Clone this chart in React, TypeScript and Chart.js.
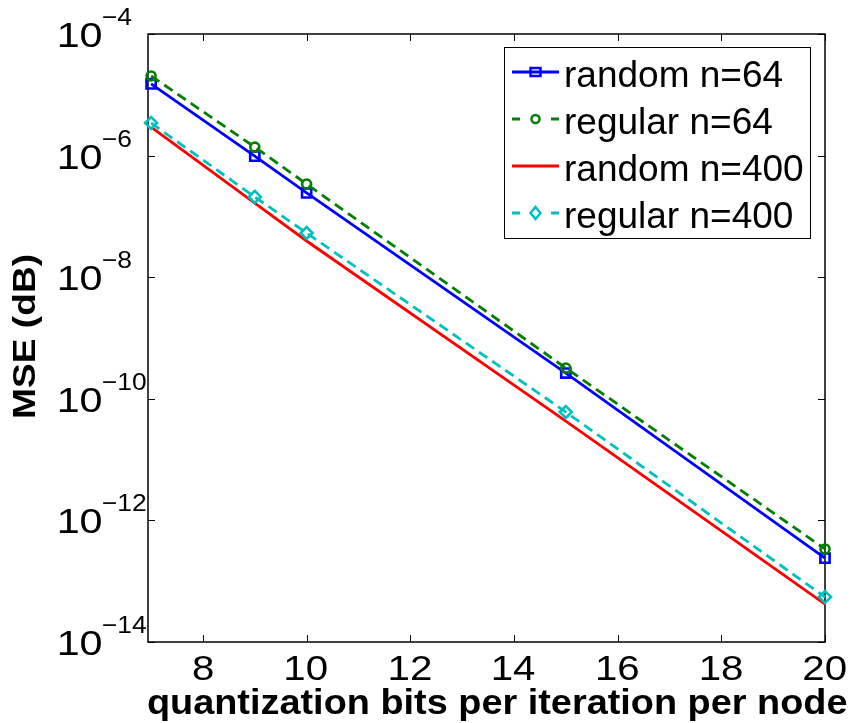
import React, { useEffect, useRef } from 'react';
import { Chart, registerables } from 'chart.js';

Chart.register(...registerables);

// ---- data ----
const bits = [7, 9, 10, 15, 20];
const randomN64 = [1.51e-5, 9.8e-7, 2.43e-7, 2.65e-10, 2.4e-13];
const regularN64 = [2.04e-5, 1.38e-6, 3.41e-7, 3.21e-10, 3.39e-13];
const randomN400 = [2.95e-6, 1.66e-7, 3.94e-8, 4.3e-11, 4.2e-14];
const regularN400 = [3.44e-6, 2.09e-7, 5.33e-8, 6.07e-11, 5.5e-14];
const seriesLabels = ['random n=64', 'regular n=64', 'random n=400', 'regular n=400'];
const xTicks = [8, 10, 12, 14, 16, 18, 20];
const yTickExponents = [-4, -6, -8, -10, -12, -14];
const xTitle = 'quantization bits per iteration per node';
const yTitle = 'MSE (dB)';

const FONT = '"Liberation Sans", Arial, Helvetica, sans-serif';
const COLORS = ['#0000ff', '#008000', '#ff0000', '#00bfbf'];
const DASHES: number[][] = [[], [10, 6], [], [10, 6]];
const STYLES = ['rect', 'circle', 'circle', 'rectRot'];
const RADII = [6.5, 4.5, 0, 6];

function drawInk(
  ctx: CanvasRenderingContext2D,
  text: string,
  font: string,
  x: number,
  y: number,
  sx: number,
  align: 'left' | 'center'
) {
  ctx.save();
  ctx.font = font;
  ctx.textAlign = 'left';
  ctx.textBaseline = 'alphabetic';
  const m = ctx.measureText(text);
  const inkLeft = -m.actualBoundingBoxLeft;
  const inkRight = m.actualBoundingBoxRight;
  ctx.translate(x, y);
  ctx.scale(sx, 1);
  if (align === 'left') ctx.fillText(text, -inkLeft, 0);
  else ctx.fillText(text, -(inkLeft + inkRight) / 2, 0);
  ctx.restore();
  return m.width * sx;
}

const matlabAxes = {
  id: 'matlabAxes',
  beforeDatasetsDraw(chart: any) {
    const { ctx, chartArea: a, scales } = chart;
    const xs = scales.x;
    const ys = scales.y;
    ctx.save();
    ctx.fillStyle = '#fff';
    ctx.fillRect(a.left, a.top, a.right - a.left, a.bottom - a.top);
    ctx.strokeStyle = '#000';
    ctx.lineWidth = 1.5;
    ctx.strokeRect(a.left, a.top, a.right - a.left, a.bottom - a.top);
    ctx.lineWidth = 1;
    const tl = 7;
    ctx.beginPath();
    xTicks.forEach((v) => {
      const px = Math.round(xs.getPixelForValue(v)) + 0.5;
      ctx.moveTo(px, a.bottom);
      ctx.lineTo(px, a.bottom - tl);
      ctx.moveTo(px, a.top);
      ctx.lineTo(px, a.top + tl);
    });
    yTickExponents.forEach((e) => {
      const py = Math.round(ys.getPixelForValue(Math.pow(10, e))) + 0.5;
      ctx.moveTo(a.left, py);
      ctx.lineTo(a.left + tl, py);
      ctx.moveTo(a.right, py);
      ctx.lineTo(a.right - tl, py);
    });
    ctx.stroke();

    ctx.fillStyle = '#000';
    // x tick labels
    xTicks.forEach((v) => {
      drawInk(ctx, String(v), `35px ${FONT}`, xs.getPixelForValue(v), a.bottom + 38, 1.15, 'center');
    });
    // y tick labels 10^e
    yTickExponents.forEach((e) => {
      const py = ys.getPixelForValue(Math.pow(10, e));
      const w = drawInk(ctx, '10', `35px ${FONT}`, 59, py + 13, 1.18, 'left');
      drawInk(ctx, '\u2212' + Math.abs(e), `24px ${FONT}`, 59 + w - 2, py - 9, 1.1, 'left');
    });

    // x title
    {
      const font = `bold 35px ${FONT}`;
      ctx.font = font;
      const m = ctx.measureText(xTitle);
      const ink = m.actualBoundingBoxLeft + m.actualBoundingBoxRight;
      drawInk(ctx, xTitle, font, 497.5, 714, 699 / ink, 'center');
    }
    // y title
    {
      const font = `bold 31px ${FONT}`;
      ctx.font = font;
      const m = ctx.measureText(yTitle);
      const ink = m.actualBoundingBoxLeft + m.actualBoundingBoxRight;
      ctx.save();
      ctx.translate(35, 336);
      ctx.rotate(-Math.PI / 2);
      drawInk(ctx, yTitle, font, 0, 0, 161 / ink, 'center');
      ctx.restore();
    }
    ctx.restore();
  },
  afterDatasetsDraw(chart: any) {
    const { ctx, chartArea: a } = chart;
    ctx.save();
    const boxL = 504;
    const boxR = a.right - 15;
    const boxT = a.top + 13;
    const boxB = boxT + 191;
    ctx.fillStyle = '#fff';
    ctx.fillRect(boxL, boxT, boxR - boxL, boxB - boxT);
    ctx.strokeStyle = '#000';
    ctx.lineWidth = 1;
    ctx.strokeRect(boxL + 0.5, boxT + 0.5, boxR - boxL, boxB - boxT);
    const lx0 = boxL + 8;
    const lx1 = boxL + 55;
    const mx = (lx0 + lx1) / 2;
    seriesLabels.forEach((label, i) => {
      const ry = boxT + 25 + 47 * i;
      ctx.strokeStyle = COLORS[i];
      ctx.lineWidth = 2.8;
      ctx.beginPath();
      if (DASHES[i].length) {
        ctx.moveTo(lx0, ry);
        ctx.lineTo(lx0 + 8, ry);
        ctx.moveTo(lx1 - 8, ry);
        ctx.lineTo(lx1, ry);
      } else {
        ctx.moveTo(lx0, ry);
        ctx.lineTo(lx1, ry);
      }
      ctx.stroke();
      ctx.lineWidth = 2.5;
      ctx.beginPath();
      if (STYLES[i] === 'rect' && RADII[i] > 0) {
        ctx.rect(mx - 5, ry - 4, 10, 8);
      } else if (STYLES[i] === 'circle' && RADII[i] > 0) {
        ctx.arc(mx, ry, 4, 0, Math.PI * 2);
      } else if (STYLES[i] === 'rectRot') {
        ctx.moveTo(mx, ry - 6);
        ctx.lineTo(mx + 5, ry);
        ctx.lineTo(mx, ry + 6);
        ctx.lineTo(mx - 5, ry);
        ctx.closePath();
      }
      ctx.stroke();
      ctx.fillStyle = '#000';
      drawInk(ctx, label, `37px ${FONT}`, boxL + 62, ry + 15, 1, 'left');
    });
    ctx.restore();
  },
};

export default function App() {
  const ref = useRef<HTMLCanvasElement>(null);
  useEffect(() => {
    const canvas = ref.current;
    if (!canvas) return;
    const series = [randomN64, regularN64, randomN400, regularN400];
    const datasets = series.map((vals, i) => ({
      label: seriesLabels[i],
      data: bits.map((b, k) => ({ x: b, y: vals[k] })),
      borderColor: COLORS[i],
      backgroundColor: COLORS[i],
      borderWidth: 2.8,
      borderDash: DASHES[i],
      pointStyle: STYLES[i] as any,
      pointRadius: RADII[i],
      pointHoverRadius: RADII[i],
      pointBorderColor: COLORS[i],
      pointBackgroundColor: 'rgba(0,0,0,0)',
      pointBorderWidth: 2.6,
      tension: 0,
      fill: false,
      clip: false as any,
      order: 4 - i,
    }));
    const chart = new Chart(canvas, {
      type: 'line',
      data: { datasets },
      options: {
        animation: false,
        responsive: false,
        devicePixelRatio: 1,
        events: [],
        layout: { padding: { left: 148, right: 31, top: 34, bottom: 81 } },
        plugins: { legend: { display: false }, tooltip: { enabled: false } },
        scales: {
          x: { type: 'linear', min: 6.94, max: 20, display: false },
          y: { type: 'logarithmic', min: 1e-14, max: 1e-4, display: false },
        },
      },
      plugins: [matlabAxes],
    });
    return () => chart.destroy();
  }, []);
  return (
    <div style={{ position: 'absolute', left: 0, top: 0, width: 856, height: 723, background: '#fff' }}>
      <canvas ref={ref} width={856} height={723} style={{ display: 'block' }} />
    </div>
  );
}
